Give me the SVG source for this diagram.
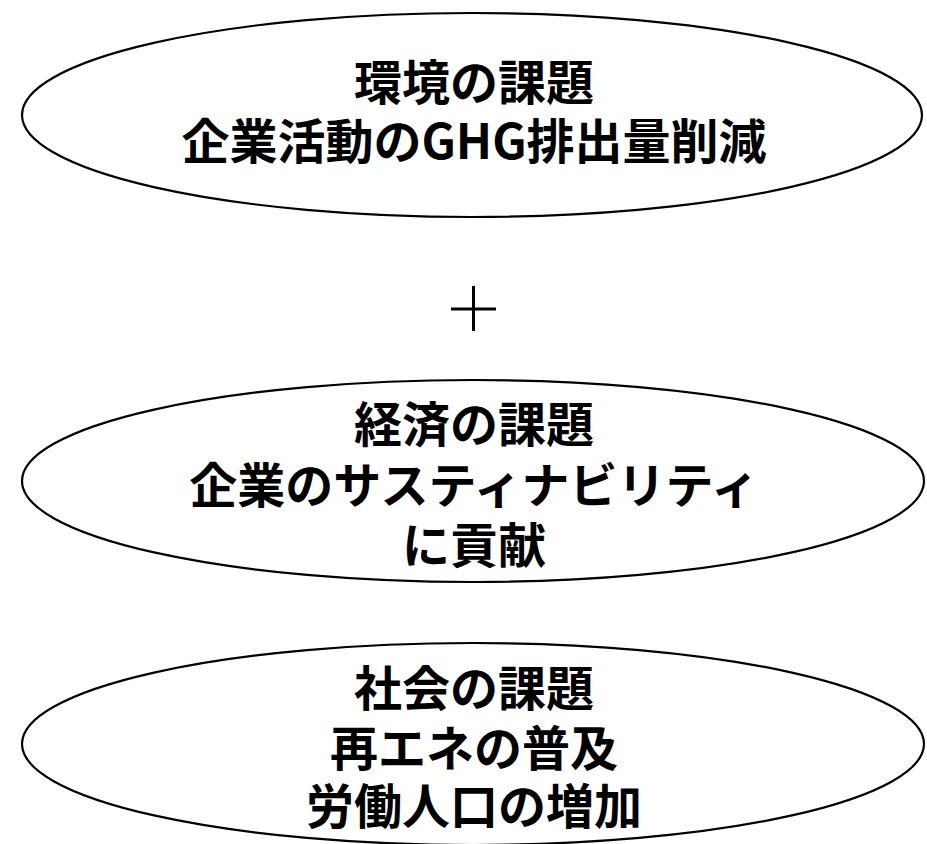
<svg xmlns="http://www.w3.org/2000/svg" width="927" height="844" viewBox="0 0 927 844">
<style>
.e{fill:#fff;stroke:#000;stroke-width:2.2}
.t{font-family:"Noto Sans CJK JP","Noto Sans CJK SC",sans-serif;font-weight:bold;font-size:48px;fill:#000;text-anchor:middle}
</style>
<rect width="927" height="844" fill="#fff"/>
<g id="env">
<ellipse class="e" cx="472" cy="115" rx="450" ry="102"/>
<text class="t" x="474" y="100">環境の課題<tspan x="474" dy="59">企業活動のGHG排出量削減</tspan></text>
</g>
<g id="plus">
<path d="M451 309H496M473.5 286V331" stroke="#000" stroke-width="3" fill="none"/>
</g>
<g id="econ">
<ellipse class="e" cx="473" cy="481" rx="451" ry="101"/>
<text class="t" x="474" y="442">経済の課題<tspan x="474" dy="61">企業のサスティナビリティ</tspan><tspan x="474" dy="60">に貢献</tspan></text>
</g>
<g id="soc">
<ellipse class="e" cx="473" cy="744" rx="451" ry="101"/>
<text class="t" x="474" y="706">社会の課題<tspan x="474" dy="60">再エネの普及</tspan><tspan x="474" dy="58">労働人口の増加</tspan></text>
</g>
<g id="connectors"/>
</svg>
